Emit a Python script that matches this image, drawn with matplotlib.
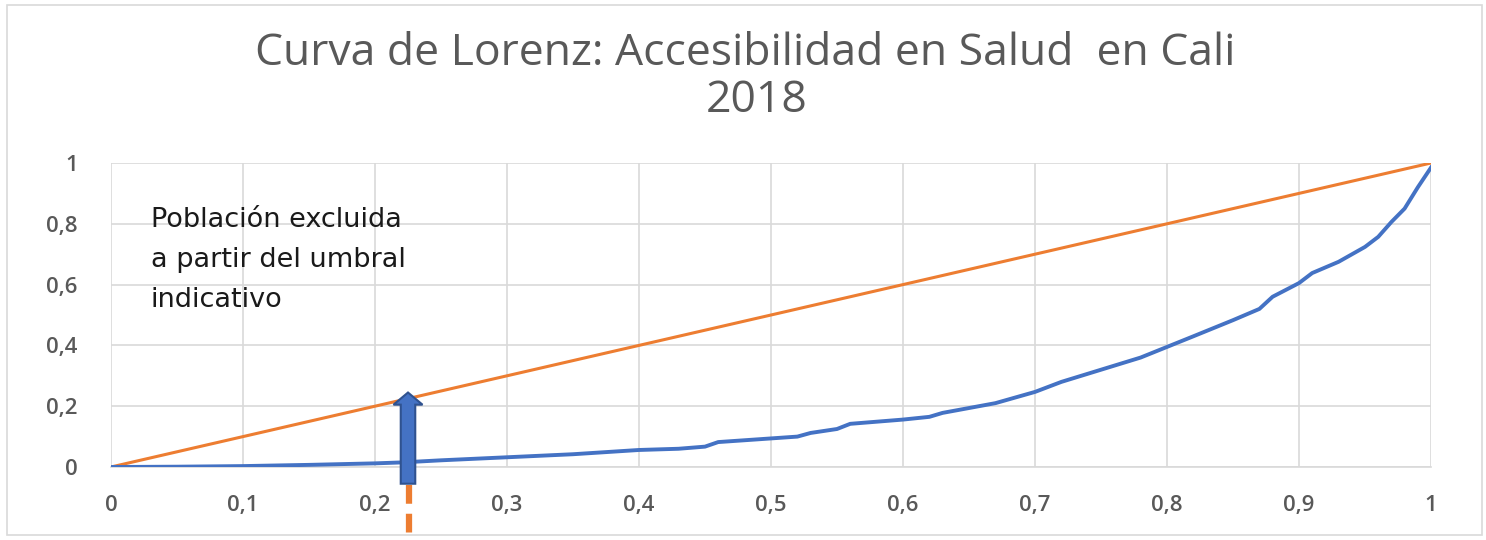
import matplotlib
matplotlib.use("Agg")
import matplotlib.pyplot as plt
from matplotlib.patches import FancyArrow, Rectangle

# Lorenz curve points
poblacion = [0.0, 0.05, 0.1, 0.15, 0.2, 0.22, 0.25, 0.3, 0.35, 0.4, 0.43, 0.45,
             0.46, 0.5, 0.52, 0.53, 0.55, 0.56, 0.6, 0.62, 0.63, 0.65, 0.67,
             0.7, 0.72, 0.75, 0.78, 0.8, 0.82, 0.85, 0.87, 0.88, 0.9, 0.91,
             0.93, 0.95, 0.96, 0.97, 0.98, 0.99, 1.0]
accesibilidad = [0.0, 0.001, 0.003, 0.007, 0.012, 0.015, 0.022, 0.032, 0.042,
                 0.056, 0.06, 0.067, 0.082, 0.094, 0.1, 0.112, 0.125, 0.142,
                 0.156, 0.165, 0.178, 0.194, 0.21, 0.247, 0.28, 0.32, 0.36,
                 0.395, 0.43, 0.483, 0.52, 0.56, 0.605, 0.638, 0.675, 0.724,
                 0.757, 0.806, 0.85, 0.92, 0.985]
igualdad_x = [0, 1]
igualdad_y = [0, 1]
umbral = 0.225

xticks = [i / 10 for i in range(11)]
xlabels = ["0", "0,1", "0,2", "0,3", "0,4", "0,5", "0,6", "0,7", "0,8", "0,9", "1"]
yticks = [0, 0.2, 0.4, 0.6, 0.8, 1]
ylabels = ["0", "0,2", "0,4", "0,6", "0,8", "1"]

gray = "#595959"
fig = plt.figure(figsize=(14.86, 5.40), dpi=100)
ax = fig.add_axes([111 / 1486, 1 - 467 / 540, 1320 / 1486, 304 / 540])

# outer chart frame
fig.patches.append(Rectangle((7 / 1486, 5 / 540), 1475 / 1486, 530 / 540,
                             transform=fig.transFigure, fill=False,
                             edgecolor="#d9d9d9", linewidth=1.2))

ax.plot(igualdad_x, igualdad_y, color="#ed7d31", linewidth=2.2, zorder=3)
ax.plot(poblacion, accesibilidad, color="#4472c4", linewidth=2.8, zorder=3)

ax.set_xlim(0, 1)
ax.set_ylim(0, 1)
ax.set_xticks(xticks)
ax.set_xticklabels(xlabels)
ax.set_yticks(yticks)
ax.set_yticklabels(ylabels)
ax.grid(True, color="#d9d9d9", linewidth=1.2)
ax.set_axisbelow(True)
for side in ["top", "right", "left"]:
    ax.spines[side].set_visible(False)
ax.spines["bottom"].set_color("#d9d9d9")
ax.spines["bottom"].set_linewidth(1.2)
ax.tick_params(length=0, labelsize=16, labelcolor=gray, pad=20)
for lab in ax.get_xticklabels() + ax.get_yticklabels():
    lab.set_family("Open Sans")
    lab.set_fontweight("semibold")
ax.tick_params(axis="y", pad=24)

# threshold marker: dashed line below axis and arrow
ax.plot([umbral + 0.001, umbral + 0.001], [-0.06, -0.24], color="#ed7d31",
        linewidth=4.5, linestyle=(0, (3, 1.6)), clip_on=False, zorder=4)
arrow = FancyArrow(umbral, -0.055, 0, 0.30, width=0.011, head_width=0.022,
                   head_length=0.04, length_includes_head=True,
                   facecolor="#4472c4", edgecolor="#2f528f", linewidth=1.5,
                   clip_on=False, zorder=5)
ax.add_patch(arrow)

ax.text(0.03, 0.855, "Población excluida\na partir del umbral\nindicativo",
        fontsize=19.5, family="DejaVu Sans", color="#1a1a1a", va="top",
        linespacing=1.7)

fig.text(745 / 1486, 1 - 54 / 540, "Curva de Lorenz: Accesibilidad en Salud  en Cali",
         ha="center", va="center", fontsize=32, family="Open Sans", color=gray)
fig.text(757 / 1486, 1 - 101 / 540, "2018", ha="center", va="center",
         fontsize=32, family="Open Sans", color=gray)

fig.savefig("out.png", dpi=100)
